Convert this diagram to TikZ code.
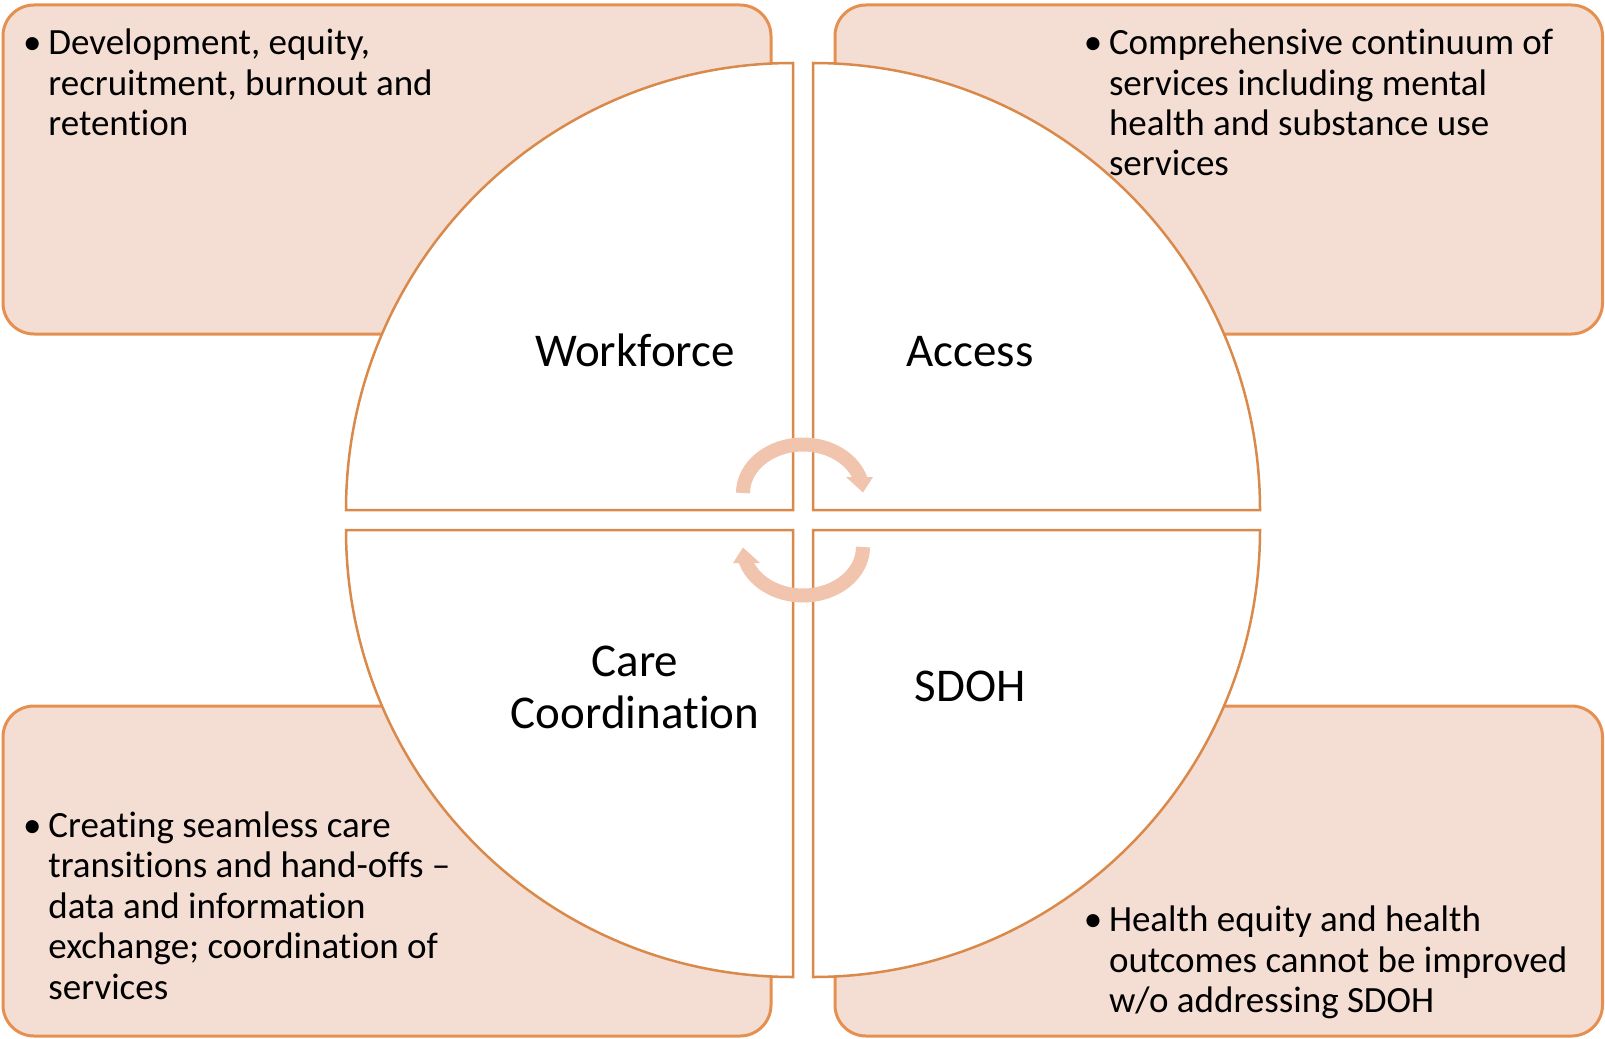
\documentclass[tikz,border=0pt]{standalone}
\usepackage{fontspec}
\setmainfont{Carlito}[Ligatures=NoCommon]
\usepackage{xcolor}
\usepackage{tikz}
\usetikzlibrary{positioning,calc}

\definecolor{boxfill}{HTML}{F4DED4}
\definecolor{boxline}{HTML}{E59050}
\definecolor{quadline}{HTML}{D98A4A}
\definecolor{cycarrow}{HTML}{F1C4AD}

\tikzset{
    infobox/.style={draw=boxline, fill=boxfill, line width=1.5pt, rounded corners=15.5pt},
    quad/.style={draw=quadline, fill=white, line width=1.25pt},
    cyc/.style={draw=cycarrow, line width=7pt},
    cychead/.style={fill=cycarrow},
    txt/.style={align=left, inner sep=0pt, font=\fontsize{18.5}{20.2}\selectfont},
    lab/.style={align=center, inner sep=0pt, font=\fontsize{23.5}{25.8}\selectfont}
}
\newcommand{\bul}{\llap{\makebox[8pt]{\textbullet}\hspace{4pt}}}

\begin{document}
\begin{tikzpicture}[x=0.5pt, y=-0.5pt]
    \useasboundingbox (0,0) rectangle (1605,1038);

    % Outer boxes
    \draw[infobox] (3,5) rectangle (771,334);
    \draw[infobox] (835,5) rectangle (1602.5,334);
    \draw[infobox] (3,706) rectangle (771,1036);
    \draw[infobox] (835,706) rectangle (1602.5,1036);

    % Quarter circles
    \draw[quad] (793,510) -- (346,510) arc[start angle=180, end angle=270, radius=447] -- cycle;
    \draw[quad] (813,510) -- (813,63) arc[start angle=270, end angle=360, radius=447] -- cycle;
    \draw[quad] (813,530) -- (1260,530) arc[start angle=0, end angle=90, radius=447] -- cycle;
    \draw[quad] (793,530) -- (793,977) arc[start angle=90, end angle=180, radius=447] -- cycle;

    \node[lab, anchor=base] (workforce) at (635,366.7) {Workforce};
    \node[lab, anchor=base] (access) at (970,366.7) {Access};
    \node[lab, anchor=base] (care) at (635,728.3) {Care\\Coordination};
    \node[lab, anchor=base] (sdoh) at (970,701.7) {SDOH};

    % Bullet texts (base = last line)
    \node[txt, anchor=base west] (worktxt) at (48,135.5) {\bul Development, equity,\\recruitment, burnout and\\retention};
    \node[txt, anchor=base west] (accesstxt) at (1108.6,176) {\bul Comprehensive continuum of\\services including mental\\health and substance use\\services};
    \node[txt, anchor=base west] (caretxt) at (48,999) {\bul Creating seamless care\\transitions and hand-offs --\\data and information\\exchange; coordination of\\services};
    \node[txt, anchor=base west] (sdohtxt) at (1108.6,1012.5) {\bul Health equity and health\\outcomes cannot be improved\\w/o addressing SDOH};

    % Cycle arrows
    \draw[cyc] (743,493) arc[start angle=180, end angle=345, x radius=60, y radius=48.5];
    \fill[cychead] (846,477) -- (873,477) -- (863,492.5) -- cycle;
    \draw[cyc] (863,547) arc[start angle=0, end angle=165, x radius=60, y radius=48.5];
    \fill[cychead] (760,563) -- (733,563) -- (743,547.5) -- cycle;
\end{tikzpicture}
\end{document}
